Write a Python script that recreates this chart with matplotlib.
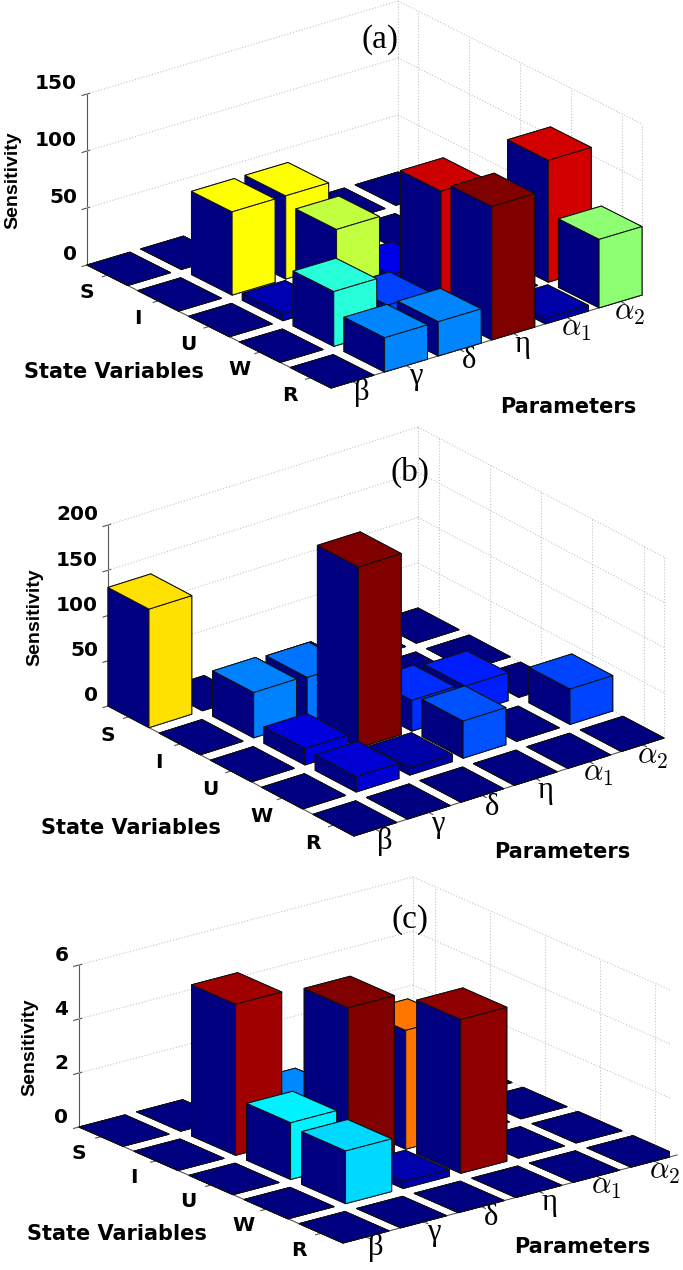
import numpy as np
import matplotlib
matplotlib.use('Agg')
import matplotlib.pyplot as plt
from matplotlib.colors import LinearSegmentedColormap

params = ['β', 'γ', 'δ', 'η', r'$\alpha_1$', r'$\alpha_2$']
states = ['S', 'I', 'U', 'W', 'R']

# rows S I U W R, columns beta gamma delta eta alpha1 alpha2
sens_a = [[0, 0, 0, 0, 0, 0],
          [0, 73, 73, 0, 0, 0],
          [0, 6, 66, 12, 0, 0],
          [0, 48, 22, 108, 0, 107],
          [0, 30, 30, 117, 5, 60]]
sens_b = [[131, 0, 0, 0, 0, 0],
          [0, 50, 48, 0, 0, 0],
          [0, 18, 200, 34, 31, 0],
          [0, 17, 8, 41, 0, 39],
          [0, 0, 0, 0, 0, 0]]
sens_c = [[0, 0, 0, 0, 0, 0],
          [0, 5.6, 1.5, 0, 0, 0],
          [0, 2.1, 5.8, 4.4, 0, 0],
          [0, 1.95, 0.25, 5.7, 0, 0],
          [0, 0, 0, 0, 0, 0]]

ticks_a = [0, 50, 100, 150]
ticks_b = [0, 50, 100, 150, 200]
ticks_c = [0, 2, 4, 6]

W, H = 683, 1270
fig = plt.figure(figsize=(W / 100, H / 100), dpi=100)
sans = 'Liberation Sans'
serif = 'Liberation Serif'
wide = 'DejaVu Sans'
plt.rcParams['mathtext.fontset'] = 'cm'
GRID = '#c4c4c4'
AX_SIZE = 600
X0, X1 = 0.6, 6.4
Y0, Y1 = 0.6, 5.4

# matlab jet
jet = LinearSegmentedColormap.from_list('mjet', [(0, (0, 0, .5)), (.125, (0, 0, 1)), (.375, (0, 1, 1)),
                                                 (.625, (1, 1, 0)), (.875, (1, 0, 0)), (1, (.5, 0, 0))], N=256)


def px_text(x, y, s, **kw):
    fig.text(x / W, 1 - y / H, s, ha='center', va='center', **kw)


def panel(data, zticks, left, front, right, ztop):
    data = np.array(data, dtype=float)
    # view angles out of the floor corners (pixels, y flipped)
    vx = np.array([right[0] - front[0], front[1] - right[1]], dtype=float)
    vy = np.array([left[0] - front[0], front[1] - left[1]], dtype=float)
    zpx = left[1] - ztop
    sin_e = np.sqrt(vx[1] / vx[0] * vy[1] / -vy[0])
    elev = np.degrees(np.arcsin(sin_e))
    ang = np.arctan(vx[0] / vx[1] * sin_e)
    azim = -180 + np.degrees(ang)
    lx = vx[0] / np.sin(ang)
    ly = -vy[0] / np.cos(ang)
    lz = zpx / np.cos(np.radians(elev))

    back = (left[0] + right[0] - front[0], left[1] + right[1] - front[1])
    # the 3d view window is 0.185 wide and starts at -0.095, so the box sits S/74 off centre
    cx = (front[0] + back[0]) / 2 - AX_SIZE / 74
    cy = (front[1] + back[1] - zpx) / 2 + AX_SIZE / 74

    ax = fig.add_axes([(cx - AX_SIZE / 2) / W, 1 - (cy + AX_SIZE / 2) / H,
                       AX_SIZE / W, AX_SIZE / H],
                      projection='3d', proj_type='ortho', computed_zorder=False)
    ax.patch.set_alpha(0)
    norm_px = np.sqrt(lx ** 2 + ly ** 2 + lz ** 2)
    zoom = norm_px * 1.85 / (AX_SIZE * 1.8294640721620434 * 25 / 24)
    ax.set_box_aspect((lx, ly, lz), zoom=zoom)
    ax.view_init(elev=elev, azim=azim)

    top = zticks[-1]
    # walls
    for z in zticks[1:]:
        ax.plot([X0, X1], [Y1, Y1], [z, z], ls=':', lw=0.8, color=GRID, zorder=1)
        ax.plot([X1, X1], [Y1, Y0], [z, z], ls=':', lw=0.8, color=GRID, zorder=1)
    ax.plot([X1, X1], [Y1, Y0], [0, 0], ls=':', lw=0.8, color=GRID, zorder=1)
    for y in [Y0, 1, 2, 3, 4, 5, Y1]:
        ax.plot([X1, X1], [y, y], [0, top], ls=':', lw=0.8, color=GRID, zorder=1)

    vmax = data.max()
    order = sorted(((c - r, r, c) for r in range(5) for c in range(6)), reverse=True)
    for k, (_, r, c) in enumerate(order):
        h = data[r, c]
        col = jet(h / vmax)
        navy = jet(0.0)
        faces = [col, col, col, col, navy, col]
        ax.bar3d(c + 1 - 0.4, 5 - r - 0.4, 0, 0.8, 0.8, h, color=faces, shade=False,
                 edgecolor='#101010', linewidth=0.7, zorder=5 + k)

    ax.set_xlim(X0, X1, view_margin=0)
    ax.set_ylim(Y0, Y1, view_margin=0)
    ax.set_zlim(0, top, view_margin=0)
    ax.grid(False)
    for axis in (ax.xaxis, ax.yaxis, ax.zaxis):
        axis.set_pane_color((1, 1, 1, 0))
        axis.pane.set_edgecolor('none')
        axis.line.set_color('#555555')
        axis.line.set_linewidth(0.8)

    ax.set_xticks(range(1, 7))
    ax.set_xticklabels(params, fontsize=22, family=serif, va='center')
    ax.set_yticks(range(1, 6))
    ax.set_yticklabels(states[::-1], fontsize=14.5, family=wide, fontweight='bold', va='center')
    ax.set_zticks(zticks)
    ax.set_zticklabels([str(z) for z in zticks], fontsize=14.5, family=wide, fontweight='bold',
                       ha='right', va='bottom')
    ax.tick_params(axis='z', pad=-4, width=0.6, color='#555555')
    ax.tick_params(axis='y', pad=7, width=0.6, color='#555555')
    ax.tick_params(axis='x', pad=0.7, width=0.6, color='#555555')
    return ax


panel(sens_a, ticks_a, (87, 265), (331, 388), (642, 295), 94)
panel(sens_b, ticks_b, (108, 706), (354, 836), (664, 738), 525)
panel(sens_c, ticks_c, (79, 1127), (343, 1243), (677, 1155), 965)

for x, y, s in [(380, 40, '(a)'), (410, 472, '(b)'), (410, 920, '(c)')]:
    px_text(x, y, s, fontsize=24, family=serif)
for x, y in [(114, 372), (131, 828), (117, 1234)]:
    px_text(x, y, 'State Variables', fontsize=15, family=wide, fontweight='bold')
for x, y in [(568, 407), (562, 852), (582, 1247)]:
    px_text(x, y, 'Parameters', fontsize=15, family=wide, fontweight='bold')
for x, y in [(13, 180), (35, 617), (30, 1047)]:
    px_text(x, y, 'Sensitivity', fontsize=14, family=sans, fontweight='bold', rotation=90)

fig.savefig('out.png', dpi=100)
